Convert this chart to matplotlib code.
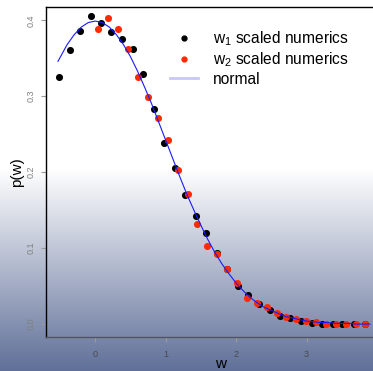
import numpy as np
import matplotlib
matplotlib.use("Agg")
import matplotlib.pyplot as plt
from matplotlib.lines import Line2D

plt.rcParams['font.family'] = ['Liberation Sans', 'DejaVu Sans']

# w1 scaled numerics (black)
w1 = [-0.516, -0.365, -0.217, -0.066, 0.08, 0.227, 0.384, 0.535, 0.68, 0.83,
      0.97, 1.127, 1.278, 1.43, 1.577, 1.728, 1.875, 2.027, 2.173, 2.32,
      2.476, 2.628, 2.77, 2.926, 3.078, 3.22, 3.37, 3.51, 3.68, 3.83]
p1 = [0.326, 0.361, 0.386, 0.406, 0.396, 0.384, 0.376, 0.362, 0.329, 0.283,
      0.239, 0.206, 0.170, 0.142, 0.1206, 0.0934, 0.072, 0.050, 0.0377, 0.027,
      0.0184, 0.011, 0.0079, 0.0044, 0.0013, 0.0005, 0.0002, 0.0001, 0.0, 0.0]

# w2 scaled numerics (red)
w2 = [0.043, 0.185, 0.327, 0.469, 0.606, 0.743, 0.885, 1.032, 1.17, 1.31,
      1.445, 1.59, 1.728, 1.875, 2.017, 2.155, 2.3, 2.44, 2.58, 2.71,
      2.855, 2.997, 3.14, 3.28, 3.42, 3.56, 3.70, 3.835]
p2 = [0.388, 0.403, 0.388, 0.362, 0.326, 0.299, 0.271, 0.243, 0.203, 0.1707,
      0.132, 0.103, 0.092, 0.072, 0.054, 0.035, 0.028, 0.0228, 0.014, 0.0088,
      0.007, 0.0044, 0.0022, 0.0005, 0.0002, 0.0001, 0.0, 0.0]

# normal curve
wn = [-0.53, -0.4, -0.3, -0.2, -0.1, 0.0, 0.1, 0.2, 0.3, 0.4, 0.5, 0.6, 0.7,
      0.8, 0.9, 1.0, 1.1, 1.2, 1.3, 1.4, 1.5, 1.6, 1.7, 1.8, 1.9, 2.0, 2.1,
      2.2, 2.3, 2.4, 2.5, 2.6, 2.7, 2.8, 2.9, 3.0, 3.1, 3.2, 3.3, 3.4, 3.5,
      3.6, 3.7, 3.8, 3.9]
pn = [0.346, 0.368, 0.381, 0.391, 0.397, 0.399, 0.397, 0.391, 0.381, 0.368,
      0.352, 0.333, 0.312, 0.290, 0.266, 0.242, 0.218, 0.194, 0.171, 0.150,
      0.130, 0.111, 0.094, 0.079, 0.066, 0.054, 0.044, 0.035, 0.028, 0.022,
      0.018, 0.014, 0.010, 0.008, 0.006, 0.004, 0.003, 0.002, 0.002, 0.001,
      0.001, 0.001, 0.000, 0.000, 0.000]

xticks = [0, 1, 2, 3]
yticks = [0.0, 0.1, 0.2, 0.3, 0.4]

fig = plt.figure(figsize=(3.73, 3.71), dpi=100)

# background gradient: white on top, slate blue at the bottom
bg = fig.add_axes([0, 0, 1, 1], zorder=-1)
n = 371
t = np.clip((np.arange(n) - 168) / (n - 168), 0, 1)
top = np.array([1.0, 1.0, 1.0])
bot = np.array([95, 111, 152]) / 255
grad = top[None, :] * (1 - t[:, None]) + bot[None, :] * t[:, None]
bg.imshow(grad[:, None, :], aspect='auto', extent=[0, 1, 0, 1])
bg.axis('off')

ax = fig.add_axes([46/373, 34.5/371, 350/373, 329.5/371])
ax.set_facecolor('none')

ax.scatter(w1, p1, s=26, color='black', zorder=2, linewidths=0)
ax.scatter(w2, p2, s=26, color='#ff2a00', zorder=3, linewidths=0)
ax.plot(wn, pn, color='#1a1aff', lw=0.8, zorder=4)

ax.set_xlim(-0.70, 4.27)
ax.set_ylim(-0.0163, 0.4175)
ax.set_xticks(xticks)
ax.set_yticks(yticks)
ax.set_yticklabels([f"{v:.1f}" for v in yticks], rotation=90, va='center')
ax.tick_params(axis='both', length=3.6, width=0.8, color='#999999',
               labelsize=6.5)
ax.tick_params(axis='x', pad=6, labelcolor='#4a4a4a')
ax.tick_params(axis='y', pad=4, labelcolor='#808080')
ax.spines['right'].set_visible(False)
for s in ['left', 'bottom', 'top']:
    ax.spines[s].set_linewidth(1.0)
ax.spines['bottom'].set_color('#555555')

ax.set_xlabel('w', fontsize=11, labelpad=-1.5)
ax.set_ylabel('p(w)', fontsize=11, labelpad=2)

handles = [
    Line2D([], [], ls='none', marker='o', ms=3.5, color='black'),
    Line2D([], [], ls='none', marker='o', ms=3.5, color='#ff2a00'),
    Line2D([], [], color='#c8c8f4', lw=2),
]
labels = [r'w$_\mathregular{1}$ scaled numerics',
          r'w$_\mathregular{2}$ scaled numerics', 'normal']
fig.legend(handles, labels, loc='upper left', bbox_to_anchor=(170/373, 1 - 29.5/371),
           frameon=False, fontsize=11.2, handlelength=1.8, handletextpad=0.95,
           labelspacing=0.15, borderpad=0, borderaxespad=0)

fig.savefig('out.png', dpi=100)
